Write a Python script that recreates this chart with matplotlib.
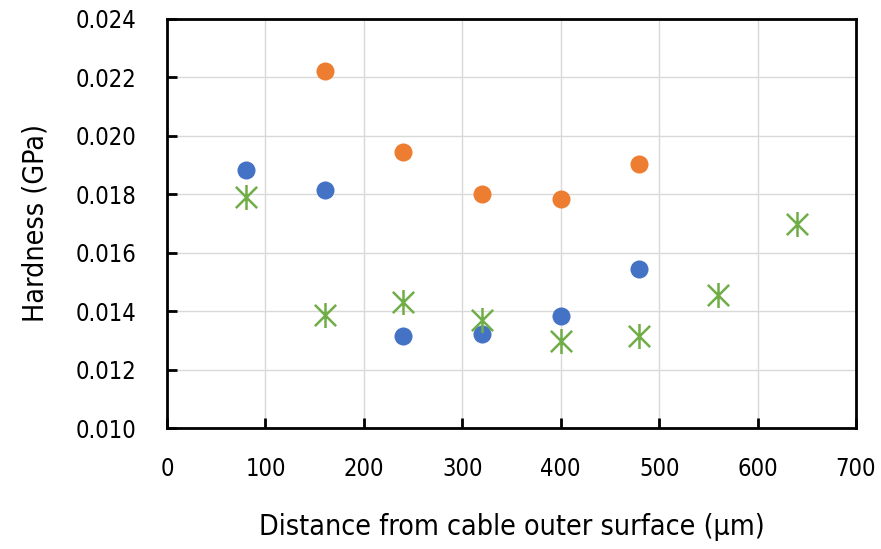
import matplotlib
matplotlib.use("Agg")
import matplotlib.pyplot as plt
from matplotlib.path import Path
from matplotlib import font_manager

# Hardness profiles vs. distance from the cable outer surface
dist_blue = [80, 160, 240, 320, 400, 480]
hard_blue = [0.01884, 0.01813, 0.01316, 0.01321, 0.01384, 0.01544]

dist_orange = [160, 240, 320, 400, 480]
hard_orange = [0.02221, 0.01946, 0.01802, 0.01784, 0.01904]

dist_green = [80, 160, 240, 320, 400, 480, 560, 640]
hard_green = [0.01791, 0.01388, 0.01432, 0.01369, 0.01298, 0.01316, 0.01455, 0.01699]

x_ticks = [0, 100, 200, 300, 400, 500, 600, 700]
y_ticks = [0.010, 0.012, 0.014, 0.016, 0.018, 0.020, 0.022, 0.024]

avail = {f.name for f in font_manager.fontManager.ttflist}
narrow = [n for n in ["Liberation Sans Narrow", "DejaVu Sans Condensed"] if n in avail]
plt.rcParams["font.family"] = narrow + ["DejaVu Sans"]
plt.rcParams["font.stretch"] = "condensed"

# asterisk marker: vertical stroke plus an X
star = Path(
    [(0, -1), (0, 1), (-0.85, -0.85), (0.85, 0.85), (-0.85, 0.85), (0.85, -0.85)],
    [Path.MOVETO, Path.LINETO, Path.MOVETO, Path.LINETO, Path.MOVETO, Path.LINETO],
)

fig = plt.figure(figsize=(8.81, 5.49), dpi=100)
ax = fig.add_axes([0.1896, 0.2204, 0.782, 0.745])

ax.plot(dist_blue, hard_blue, linestyle="none", marker="o", markersize=13,
        color="#4472C4", markeredgewidth=0, zorder=3)
ax.plot(dist_orange, hard_orange, linestyle="none", marker="o", markersize=13,
        color="#ED7D31", markeredgewidth=0, zorder=3)
ax.plot(dist_green, hard_green, linestyle="none", marker=star, markersize=18,
        color="#70AD47", markeredgewidth=1.8, fillstyle="none", zorder=3)

ax.set_xlim(0, 700)
ax.set_ylim(0.010, 0.024)
ax.set_xticks(x_ticks)
ax.set_yticks(y_ticks)
ax.set_yticklabels([f"{v:.3f}" for v in y_ticks])
ax.grid(True, color="#D9D9D9", linewidth=1.0, zorder=0)
ax.set_axisbelow(True)

for side in ["left", "bottom", "right", "top"]:
    ax.spines[side].set_color("black")
    ax.spines[side].set_linewidth(2.0)

ax.tick_params(axis="both", direction="in", length=7, width=2, labelsize=17,
               colors="black")
ax.tick_params(axis="x", pad=21)
ax.tick_params(axis="y", pad=22)

ax.set_xlabel("Distance from cable outer surface (\u03bcm)", fontsize=20.5, labelpad=23)
ax.set_ylabel("Hardness (GPa)", fontsize=20.5, labelpad=19)

fig.savefig("out.png", dpi=100)
